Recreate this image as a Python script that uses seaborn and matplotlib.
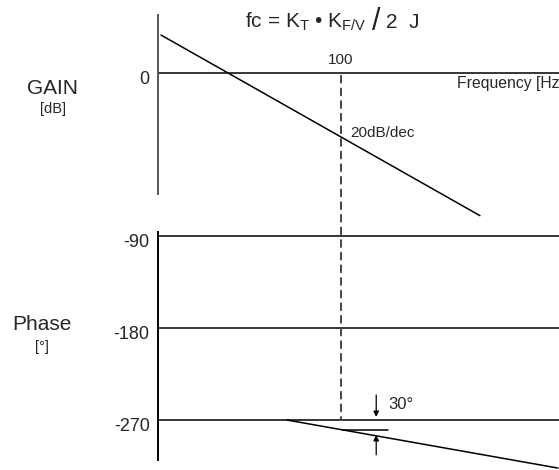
import numpy as np
import pandas as pd
import seaborn as sns
import matplotlib.pyplot as plt
import matplotlib.transforms as mtrans
from matplotlib.patches import ConnectionPatch

# data (frequency in Hz, gain in dB, phase in degrees)
gain_freq = [12.6, 495]
gain_db = [6.7, -25.2]
phase_freq = [53.7, 1216]
phase_deg = [-270, -317]
fc_mark = 100
phase_ticks = [-90, -180, -270]
margin_freq = [101, 172]
margin_deg = [-280, -280]

sns.set_style('white')
plt.rcParams['font.family'] = ['Liberation Sans', 'DejaVu Sans']
plt.rcParams['mathtext.fontset'] = 'custom'
plt.rcParams['mathtext.rm'] = 'Liberation Sans'
plt.rcParams['mathtext.it'] = 'Liberation Sans'

W, H = 559, 470
fig = plt.figure(figsize=(W / 100, H / 100), dpi=100)

def px_axes(top, bottom):
    return fig.add_axes([158 / W, 1 - bottom / H, 1 - 158 / W, (bottom - top) / H])

def shift_labels(ax):
    # labels sit a little below their lines in the original
    off = mtrans.ScaledTranslation(0, -4 / 100, fig.dpi_scale_trans)
    for lab in ax.get_yticklabels():
        lab.set_transform(lab.get_transform() + off)

xlim = (10 ** 1.085, 10 ** 3.09)

# ---- gain plot
ax1 = px_axes(10, 220)
df_g = pd.DataFrame({'f': gain_freq, 'g': gain_db})
sns.lineplot(data=df_g, x='f', y='g', ax=ax1, color='black', lw=1.1)
ax1.axhline(0, color='black', lw=1.1)
ax1.set_xscale('log')
ax1.set_xlim(*xlim)
ax1.set_ylim(-25.97, 11.13)
ax1.set_yticks([0])
ax1.set_yticklabels(['0'])
ax1.set_xticks([])
ax1.set_xticks([], minor=True)
ax1.tick_params(axis='y', length=0, pad=6, labelsize=13)
for s in ['top', 'right', 'bottom']:
    ax1.spines[s].set_visible(False)
ax1.spines['left'].set_color('#555555')
ax1.spines['left'].set_linewidth(1.4)
ax1.spines['left'].set_bounds(-21.4, 10.25)
ax1.set_xlabel('')
ax1.set_ylabel('')
ax1.patch.set_alpha(0)
shift_labels(ax1)
ax1.text(fc_mark, 1.0, '100', ha='center', va='bottom', fontsize=11)
ax1.text(380, -1.9, 'Frequency [Hz]', ha='left', va='center', fontsize=11.3)
ax1.text(111, -10.6, '20dB/dec', ha='left', va='center', fontsize=11)

# ---- phase plot
ax2 = px_axes(226, 470)
df_p = pd.DataFrame({'f': phase_freq, 'p': phase_deg})
sns.lineplot(data=df_p, x='f', y='p', ax=ax2, color='black', lw=1.1)
for t in phase_ticks:
    ax2.axhline(t, color='black', lw=1.1)
sns.lineplot(x=margin_freq, y=margin_deg, ax=ax2, color='black', lw=1.1)
ax2.set_xscale('log')
ax2.set_xlim(*xlim)
ax2.set_ylim(-318.9, -80.2)
ax2.set_yticks(phase_ticks)
ax2.set_yticklabels([str(t) for t in phase_ticks])
ax2.set_xticks([])
ax2.set_xticks([], minor=True)
ax2.tick_params(axis='y', length=0, pad=6, labelsize=13)
for s in ['top', 'right', 'bottom']:
    ax2.spines[s].set_visible(False)
ax2.spines['left'].set_color('black')
ax2.spines['left'].set_linewidth(1.4)
ax2.spines['left'].set_bounds(-309.1, -86.1)
ax2.set_xlabel('')
ax2.set_ylabel('')
ax2.patch.set_alpha(0)
shift_labels(ax2)

arr = dict(arrowstyle='-|>', color='black', lw=0.9, mutation_scale=8, shrinkA=0, shrinkB=0)
ax2.annotate('', xy=(150, -267), xytext=(150, -245.5), arrowprops=arr)
ax2.annotate('', xy=(150, -284.7), xytext=(150, -304), arrowprops=arr)
ax2.text(172, -255, '30°', ha='left', va='center', fontsize=12)

# dashed marker at 100 Hz through both plots
con = ConnectionPatch(xyA=(fc_mark, -0.5), coordsA=ax1.transData,
                      xyB=(fc_mark, -270), coordsB=ax2.transData,
                      color='#444444', lw=1.4, linestyle=(0, (3.5, 3)))
fig.add_artist(con)

# side labels
fig.text(53 / W, 1 - 88 / H, 'GAIN', ha='center', va='center', fontsize=15)
fig.text(53 / W, 1 - 109 / H, '[dB]', ha='center', va='center', fontsize=10.5)
fig.text(42 / W, 1 - 325 / H, 'Phase', ha='center', va='center', fontsize=15)
fig.text(42 / W, 1 - 347 / H, '[°]', ha='center', va='center', fontsize=10.5)

# formula
fig.text(245 / W, 1 - 22 / H, r'fc = K$_\mathrm{T}$ • K$_\mathrm{F/V}$',
         ha='left', va='center', fontsize=15)
fig.text(376 / W, 1 - 22 / H, '/', ha='center', va='center', fontsize=22)
fig.text(386 / W, 1 - 22 / H, '2  J', ha='left', va='center', fontsize=15)

fig.savefig('out.png', dpi=100)
